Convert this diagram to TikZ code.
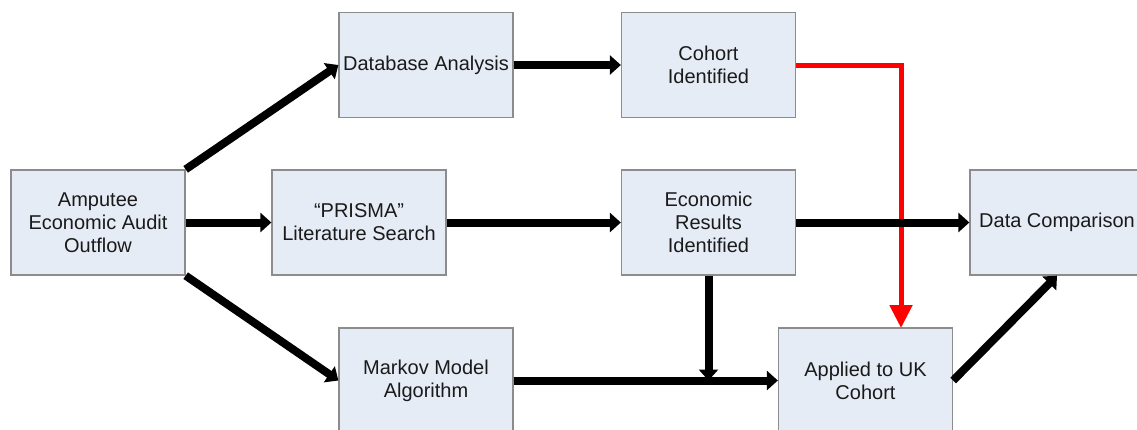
\documentclass[tikz,border=0pt]{standalone}
\usepackage{fontspec}
\setmainfont{Liberation Sans}
\usetikzlibrary{arrows.meta}
\definecolor{boxfill}{HTML}{E6ECF6}
\definecolor{boxline}{HTML}{8C8C8C}
\definecolor{txt}{HTML}{1A1A1A}
\tikzset{
  box/.style={draw=boxline, line width=1.3pt, fill=boxfill, minimum width=174pt, minimum height=105pt,
    inner sep=2pt, align=center, text=txt, font=\fontsize{20}{23}\selectfont},
  blk/.style={line width=8pt, -{Triangle[width=19pt,length=11pt]}},
  redarr/.style={draw=red, line width=5pt, -{Triangle[width=22pt,length=23pt]}}
}
\begin{document}
\begin{tikzpicture}[x=1pt,y=-1pt]
\clip (0,0) rectangle (1137,429);
\fill[white] (0,0) rectangle (1137,429);
\node[box] (amp) at (98,222.5) {Amputee\\Economic Audit\\Outflow};
\node[box] (db) at (426,65) {Database Analysis};
\node[box] (coh) at (708.5,65) {Cohort\\Identified};
\node[box] (pri) at (359,222.5) {“PRISMA”\\Literature Search};
\node[box] (eco) at (708.5,222.5) {Economic\\Results\\Identified};
\node[box] (dc) at (1057,222.5) {Data Comparison};
\node[box] (mar) at (426,380.5) {Markov Model\\Algorithm};
\node[box] (app) at (865.5,380.5) {Applied to UK\\Cohort};
\coordinate (j) at (eco.south |- mar.east);
\coordinate (rc) at (901,65);
\coordinate (rt) at (901,328);
\draw[blk] (amp.north east) -- (db.west);
\draw[blk] (amp.east) -- (pri.west);
\draw[blk] (amp.south east) -- (mar.west);
\draw[blk] (db.east) -- (coh.west);
\draw[blk] (pri.east) -- (eco.west);
\draw[blk] (mar.east) -- (app.west);
\draw[blk] (eco.south) -- (j);
\draw[blk] (app.east) -- (dc.south);
\draw[redarr] (coh.east) -- (rc) -- (rt);
\draw[blk] (eco.east) -- (dc.west);
\end{tikzpicture}
\end{document}
